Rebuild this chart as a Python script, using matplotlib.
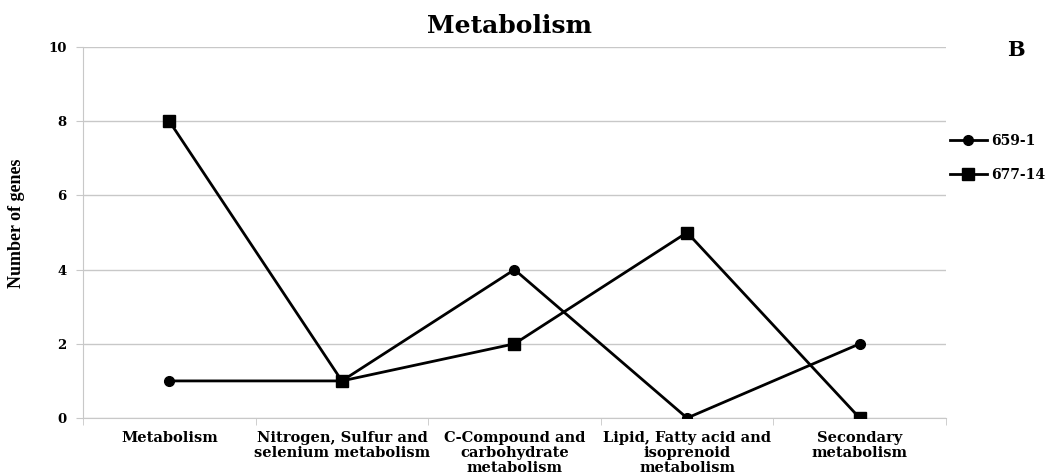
import matplotlib.pyplot as plt
import numpy as np

plt.rcParams["font.family"] = ["DejaVu Serif"]

categories = [
    "Metabolism",
    "Nitrogen, Sulfur and\nselenium metabolism",
    "C-Compound and\ncarbohydrate\nmetabolism",
    "Lipid, Fatty acid and\nisoprenoid\nmetabolism",
    "Secondary\nmetabolism",
]
s659 = [1, 1, 4, 0, 2]
s677 = [8, 1, 2, 5, 0]
yticks = [0, 2, 4, 6, 8, 10]

GRID = "#c8c8c8"

fig = plt.figure(figsize=(10.49, 4.76), dpi=100, facecolor="white")
ax = fig.add_axes([0.0791, 0.1218, 0.8227, 0.7795])

x = np.arange(len(categories))
ax.plot(x, s659, color="black", lw=2, marker="o", ms=7, label="659-1", zorder=3)
ax.plot(x, s677, color="black", lw=2, marker="s", ms=8, label="677-14", zorder=3)

ax.set_xlim(-0.5, len(categories) - 0.5)
ax.set_ylim(0, 10)
ax.set_yticks(yticks)
ax.set_yticklabels([str(v) for v in yticks], fontsize=9.5, fontweight="bold")
ax.yaxis.grid(True, color=GRID, lw=1)
ax.set_axisbelow(True)

ax.set_xticks(x)
ax.set_xticklabels(categories, fontsize=10.5, fontweight="bold", linespacing=1.1)
ax.tick_params(axis="x", length=0, pad=9)
ax.set_xticks(np.arange(-0.5, len(categories) + 0.5, 1), minor=True)
ax.tick_params(axis="x", which="minor", length=5, color=GRID)
ax.tick_params(axis="y", length=5, color=GRID, pad=7)

for side in ["top", "right"]:
    ax.spines[side].set_visible(False)
ax.spines["left"].set_color(GRID)
ax.spines["bottom"].set_color(GRID)

fig.text(0.016, 0.531, "Number of genes", rotation=90, ha="center", va="center",
         fontsize=13, fontweight="bold", family="Liberation Serif")
fig.text(0.486, 0.945, "Metabolism", ha="center", va="center", fontsize=18, fontweight="bold")
fig.text(0.968, 0.895, "B", ha="center", va="center", fontsize=15, fontweight="bold")

leg = fig.legend(loc="upper left", bbox_to_anchor=(0.906, 0.718), frameon=False,
                 prop={"weight": "bold", "size": 10}, handlelength=2.6,
                 handletextpad=0.3, labelspacing=1.4, borderaxespad=0, borderpad=0)

fig.savefig("out.png", dpi=100, facecolor="white")
